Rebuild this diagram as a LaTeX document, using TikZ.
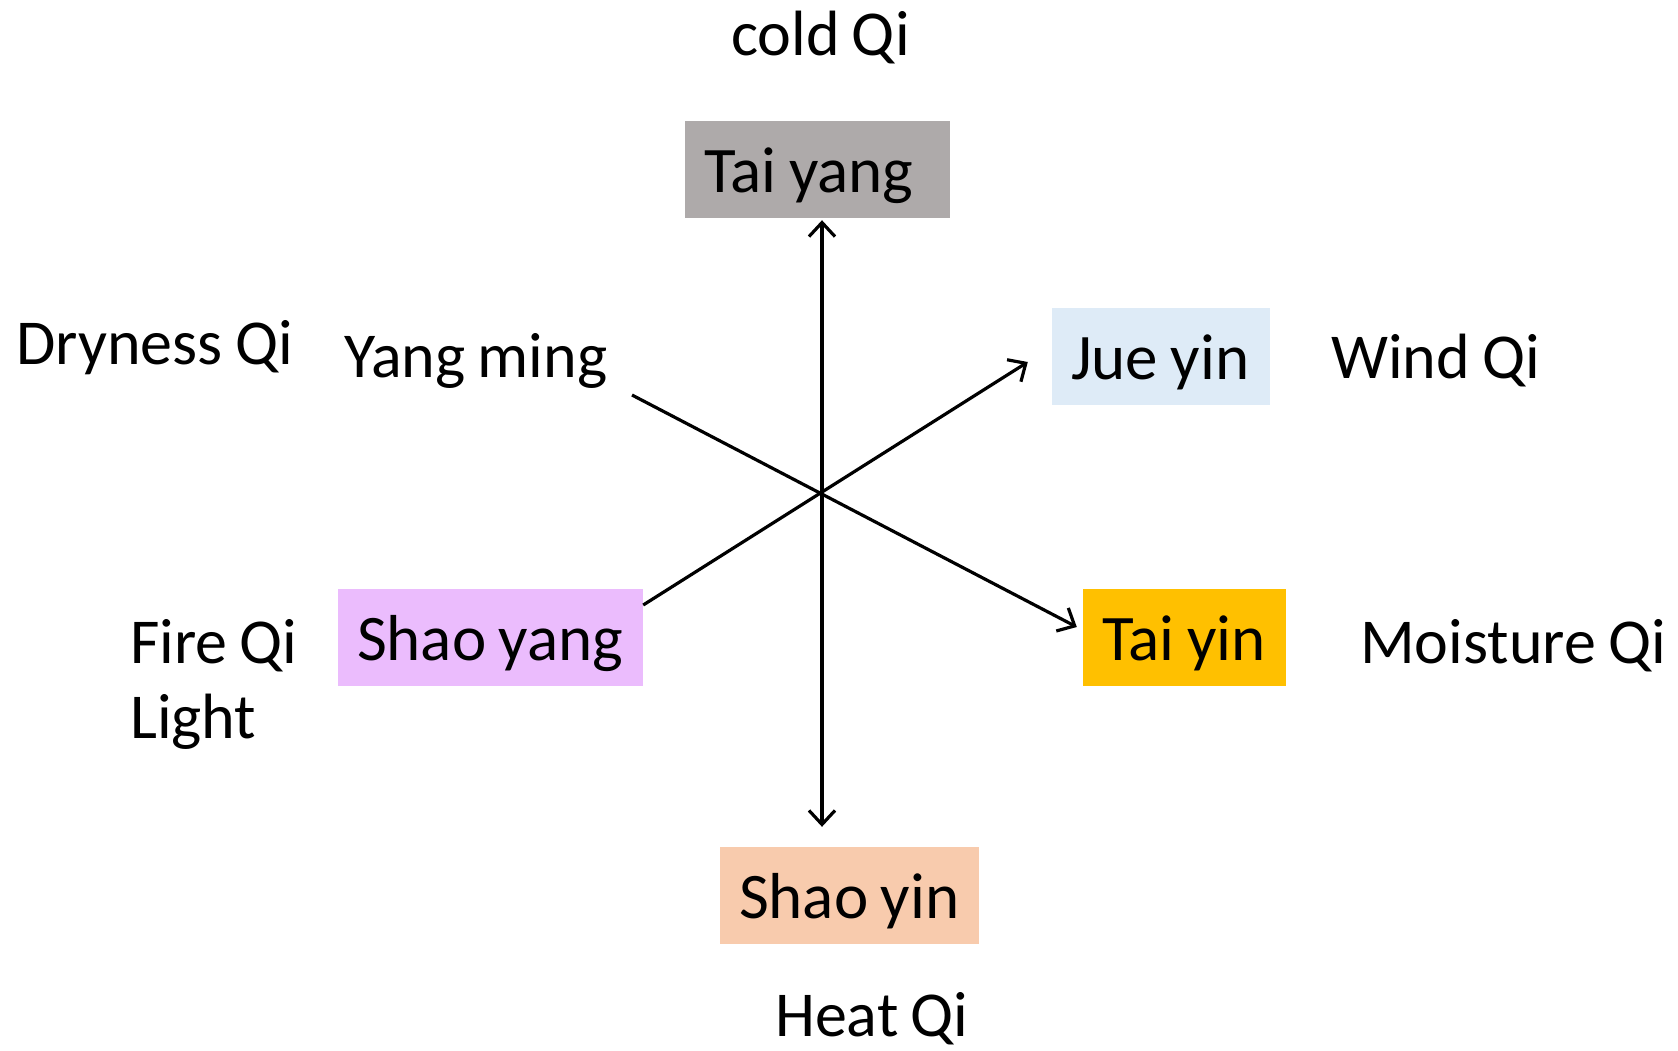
\documentclass[tikz,border=0pt]{standalone}
\usepackage{fontspec}
\setmainfont{Carlito}[WordSpace=0.85]
\usetikzlibrary{arrows.meta,calc}
\definecolor{tygray}{RGB}{174,170,170}
\definecolor{jyblue}{RGB}{222,235,247}
\definecolor{tyinorange}{RGB}{255,192,0}
\definecolor{syviolet}{RGB}{235,188,253}
\definecolor{syinpeach}{RGB}{248,203,173}
\newcommand{\boxtxt}[2]{\makebox[#1][l]{#2}}
\begin{document}
\begin{tikzpicture}[x=1pt,y=-1pt,
  box/.style={font=\fontsize{65}{76}\selectfont, inner xsep=19pt, inner ysep=13.5pt, text height=58pt, text depth=12pt},
  lbl/.style={font=\fontsize{64}{76}\selectfont, anchor=base west, inner sep=0pt},
  conn/.style={line width=3.2pt, >={Straight Barb[length=14pt,width=26pt]}}]
\useasboundingbox (0,0) rectangle (1678,1050);
\fill[white] (0,0) rectangle (1678,1050);

\node[box, fill=tygray] (taiyang) at (817.5,169.5) {\boxtxt{227pt}{Tai yang}};
\node[box, fill=jyblue] (jueyin) at (1161,356) {\boxtxt{180pt}{Jue yin}};
\node[box, fill=tyinorange] (taiyin) at (1184.5,637) {\boxtxt{165pt}{Tai yin}};
\node[box, fill=syviolet] (shaoyang) at (490.5,637) {\boxtxt{267pt}{Shao yang}};
\node[box, fill=syinpeach] (shaoyin) at (849.5,895.5) {\boxtxt{221pt}{Shao yin}};

\node[lbl] (cold) at (731,55) {cold Qi};
\node[lbl] (dry) at (16,364) {Dryness Qi};
\node[lbl] (yangming) at (344,377) {Yang ming};
\node[lbl] (wind) at (1331,378) {Wind Qi};
\node[lbl] (fire) at (130,663) {Fire Qi};
\node[lbl] (light) at (130,738) {Light};
\node[lbl] (moist) at (1360,663) {Moisture Qi};
\node[lbl] (heat) at (775,1036) {Heat Qi};

\coordinate (c) at (822,493);
\draw[conn,<->] ($(taiyang.south -| c)+(0,2)$) -- ($(shaoyin.north -| c)+(0,-20)$);
\draw[conn,->] ($(yangming.base west)+(288,18)$) -- ($(taiyin.west)+(-6,-10)$);
\draw[conn,->] ($(shaoyang.east)+(0,-32)$) -- ($(jueyin.west)+(-24,6)$);
\end{tikzpicture}
\end{document}
